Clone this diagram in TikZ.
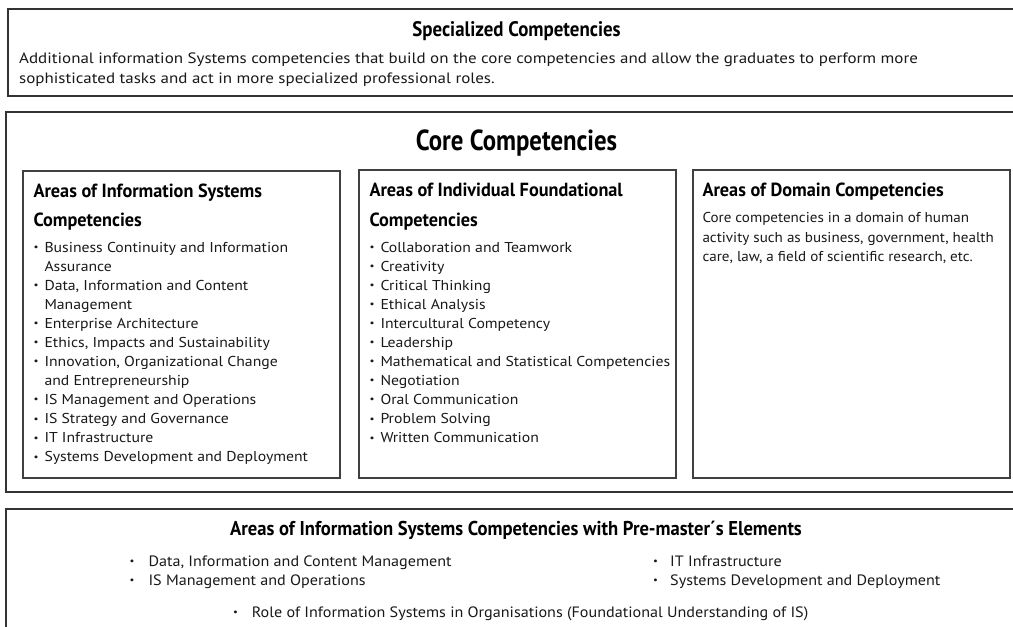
\documentclass[tikz,border=0pt]{standalone}
\usepackage{fontspec}
\setmainfont{PT Sans}
\newfontfamily\ttlspec[FakeStretch=0.9]{PT Sans}
\newfontfamily\ttlcore[FakeStretch=0.855]{PT Sans}
\newfontfamily\ttlbox[FakeStretch=0.96]{PT Sans}
\newfontfamily\ttlbot[FakeStretch=0.93]{PT Sans}
\newfontfamily\txtbox[FakeStretch=1.1]{PT Sans}
\newfontfamily\txtbot[FakeStretch=1.075]{PT Sans}
\newfontfamily\txtspec[FakeStretch=1.13]{PT Sans}
\newfontfamily\txtdom[FakeStretch=1.055]{PT Sans}
\newcommand\bulmark[1][11pt]{\makebox[#1][l]{\raisebox{0.12em}{\fontsize{10}{10}\selectfont •}}}
\newcommand\bulgap{\hspace*{11pt}}
\begin{document}
\begin{tikzpicture}[x=1pt,y=-1pt,
  frame/.style={draw=black!80,line width=1.2pt},
  inframe/.style={draw=black!75,line width=1.1pt},
  specttl/.style={font=\ttlspec\bfseries\fontsize{21}{25}\selectfont,inner sep=0pt,anchor=base},
  corettl/.style={font=\ttlcore\bfseries\fontsize{29}{34}\selectfont,inner sep=0pt,anchor=base},
  botttl/.style={font=\ttlbot\bfseries\fontsize{20}{24}\selectfont,inner sep=0pt,anchor=base},
  boxttl/.style={font=\ttlbox\bfseries\fontsize{19}{23}\selectfont,inner sep=0pt,anchor=base west},
  itm/.style={font=\txtbox\fontsize{14.3}{17}\selectfont,inner sep=0pt,anchor=base west,text=black!90},
  domtxt/.style={font=\txtdom\fontsize{14.3}{17}\selectfont,inner sep=0pt,anchor=base west,text=black!90},
  spectxt/.style={font=\txtspec\fontsize{15}{18}\selectfont,inner sep=0pt,anchor=base west,text=black!90},
  bitm/.style={font=\txtbot\fontsize{15}{18}\selectfont,inner sep=0pt,anchor=base west,text=black!90}]
\useasboundingbox (0,0) rectangle (1013,627);
\clip (0,0) rectangle (1013,627);
\fill[white] (0,0) rectangle (1013,627);
% outer frames
\draw[frame] (8,9) rectangle (1030,96);
\draw[frame] (6,112) rectangle (1030,492);
\draw[frame] (6,509) rectangle (1030,650);
% inner boxes
\draw[inframe] (23,171) rectangle (340,478);
\draw[inframe] (359,170) rectangle (676,478);
\draw[inframe] (693,170) rectangle (1010,478);
% specialized
\node[specttl] (spt) at (516.5,36) {Specialized Competencies};
\node[spectxt] (sp1) at (19,63.3) {Additional information Systems competencies that build on the core competencies and allow the graduates to perform more};
\node[spectxt] (sp2) at (19,83.3) {sophisticated tasks and act in more specialized professional roles.};
% core
\node[corettl] (core) at (516.5,150) {Core Competencies};
% box 1
\node[boxttl] (t1a) at (33.3,197.7) {Areas of Information Systems};
\node[boxttl] (t1b) at (33.3,226.7) {Competencies};
\foreach \b/\t [count=\i from 0] in {
  1/{Business Continuity and Information},
  0/{Assurance},
  1/{Data, Information and Content},
  0/{Management},
  1/{Enterprise Architecture},
  1/{Ethics, Impacts and Sustainability},
  1/{Innovation, Organizational Change},
  0/{and Entrepreneurship},
  1/{IS Management and Operations},
  1/{IS Strategy and Governance},
  1/{IT Infrastructure},
  1/{Systems Development and Deployment}}{
  \node[itm] (a\i) at (33.3,252.3+19.05*\i) {\ifnum\b=1 \bulmark\else\bulgap\fi\t};
}
% box 2
\node[boxttl] (t2a) at (369.3,196.7) {Areas of Individual Foundational};
\node[boxttl] (t2b) at (369.3,226.7) {Competencies};
\foreach \t [count=\i from 0] in {
  {Collaboration and Teamwork},
  {Creativity},
  {Critical Thinking},
  {Ethical Analysis},
  {Intercultural Competency},
  {Leadership},
  {Mathematical and Statistical Competencies},
  {Negotiation},
  {Oral Communication},
  {Problem Solving},
  {Written Communication}}{
  \node[itm] (b\i) at (369.3,252.3+19.05*\i) {\bulmark\t};
}
% box 3
\node[boxttl] (t3) at (702.3,196.7) {Areas of Domain Competencies};
\node[domtxt] (c0) at (702.3,222.7) {Core competencies in a domain of human};
\node[domtxt] (c1) at (702.3,242.2) {activity such as business, government, health};
\node[domtxt] (c2) at (702.3,261.7) {care, law, a field of scientific research, etc.};
% bottom
\node[botttl] (bt) at (516,535) {Areas of Information Systems Competencies with Pre-master´s Elements};
\node[bitm] (d0) at (129.5,566.7) {\bulmark[18.8pt]Data, Information and Content Management};
\node[bitm] (d1) at (129.5,585.5) {\bulmark[18.8pt]IS Management and Operations};
\node[bitm] (d2) at (653,566.7) {\bulmark[17pt]IT Infrastructure};
\node[bitm] (d3) at (653,585.5) {\bulmark[17pt]Systems Development and Deployment};
\node[bitm] (d4) at (233,617) {\bulmark[18.7pt]Role of Information Systems in Organisations (Foundational Understanding of IS)};
\end{tikzpicture}
\end{document}
